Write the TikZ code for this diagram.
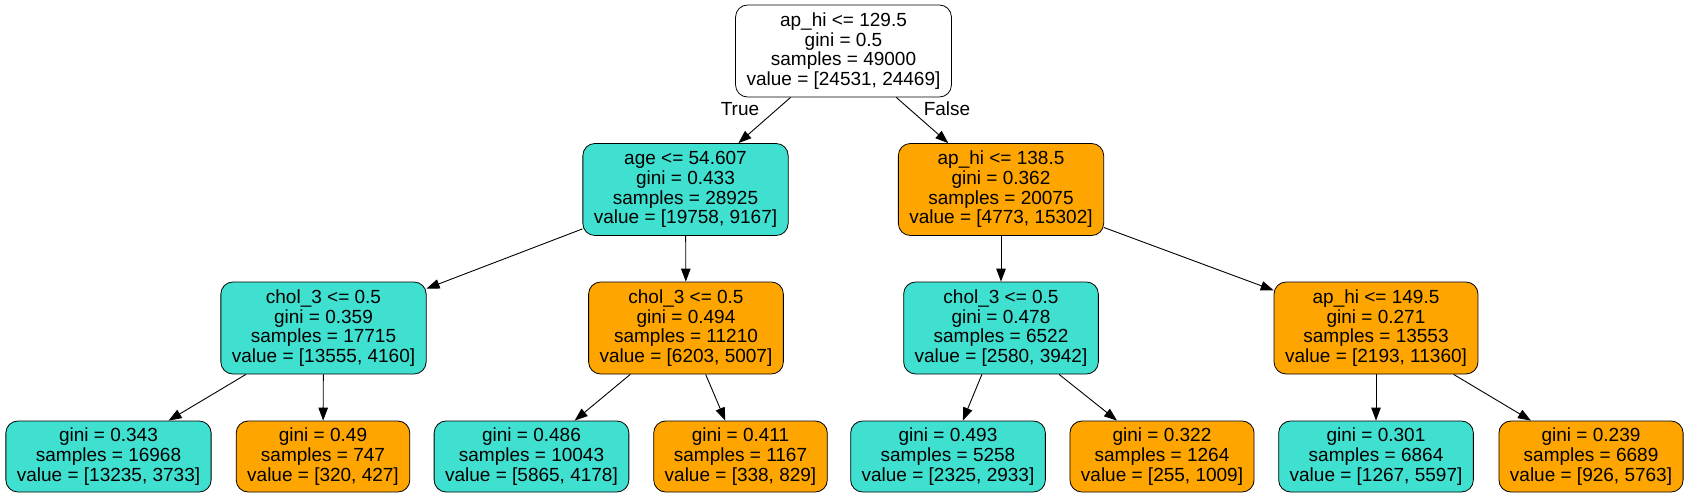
\documentclass[tikz,border=0pt]{standalone}
\usepackage{fontspec}
\setmainfont{Liberation Sans}
\usepackage{xcolor}
\usetikzlibrary{arrows.meta, positioning}
\definecolor{turq}{HTML}{40E0D0}
\definecolor{orng}{HTML}{FFA500}

\begin{document}
\begin{tikzpicture}[x=1pt,y=-1pt,
  box/.style={draw=black,line width=0.8pt,rounded corners=12pt,align=center,inner xsep=11pt,font=\fontsize{19}{19.7}\selectfont},
  split/.style={box,minimum height=92pt},
  leaf/.style={box,minimum height=71pt},
  arr/.style={line width=0.9pt,-{Triangle[length=13pt,width=9.5pt]}}]
\useasboundingbox (0,0) rectangle (1685,497);
\node[split,fill=white] (root) at (843.5,51) {ap\_hi <= 129.5\\gini = 0.5\\samples = 49000\\value = [24531, 24469]};
\node[split,fill=turq] (age) at (685.5,189.5) {age <= 54.607\\gini = 0.433\\samples = 28925\\value = [19758, 9167]};
\node[split,fill=orng] (hiA) at (1001,189.5) {ap\_hi <= 138.5\\gini = 0.362\\samples = 20075\\value = [4773, 15302]};
\node[split,fill=turq] (cholA) at (323.5,328) {chol\_3 <= 0.5\\gini = 0.359\\samples = 17715\\value = [13555, 4160]};
\node[split,fill=orng] (cholB) at (686,328) {chol\_3 <= 0.5\\gini = 0.494\\samples = 11210\\value = [6203, 5007]};
\node[split,fill=turq] (cholC) at (1001,328) {chol\_3 <= 0.5\\gini = 0.478\\samples = 6522\\value = [2580, 3942]};
\node[split,fill=orng] (hiB) at (1376,328) {ap\_hi <= 149.5\\gini = 0.271\\samples = 13553\\value = [2193, 11360]};
% leaves
\node[leaf,fill=turq] (l1) at (108.5,456.5) {gini = 0.343\\samples = 16968\\value = [13235, 3733]};
\node[leaf,fill=orng] (l2) at (323,456.5) {gini = 0.49\\samples = 747\\value = [320, 427]};
\node[leaf,fill=turq] (l3) at (531.5,456.5) {gini = 0.486\\samples = 10043\\value = [5865, 4178]};
\node[leaf,fill=orng] (l4) at (740.5,456.5) {gini = 0.411\\samples = 1167\\value = [338, 829]};
\node[leaf,fill=turq] (l5) at (948,456.5) {gini = 0.493\\samples = 5258\\value = [2325, 2933]};
\node[leaf,fill=orng] (l6) at (1162,456.5) {gini = 0.322\\samples = 1264\\value = [255, 1009]};
\node[leaf,fill=turq] (l7) at (1376,456.5) {gini = 0.301\\samples = 6864\\value = [1267, 5597]};
\node[leaf,fill=orng] (l8) at (1591,456.5) {gini = 0.239\\samples = 6689\\value = [926, 5763]};
\draw[arr] (root) -- (age);
\draw[arr] (root) -- (hiA);
\node[font=\fontsize{19}{19.7}\selectfont] (tlab) at (740,109) {True};
\node[font=\fontsize{19}{19.7}\selectfont] (flab) at (947,109) {False};
\draw[arr] (age) -- (cholA);
\draw[arr] (age) -- (cholB);
\draw[arr] (hiA) -- (cholC);
\draw[arr] (hiA) -- (hiB);
\draw[arr] (cholA) -- (l1);
\draw[arr] (cholA) -- (l2);
\draw[arr] (cholB) -- (l3);
\draw[arr] (cholB) -- (l4);
\draw[arr] (cholC) -- (l5);
\draw[arr] (cholC) -- (l6);
\draw[arr] (hiB) -- (l7);
\draw[arr] (hiB) -- (l8);
\end{tikzpicture}
\end{document}
